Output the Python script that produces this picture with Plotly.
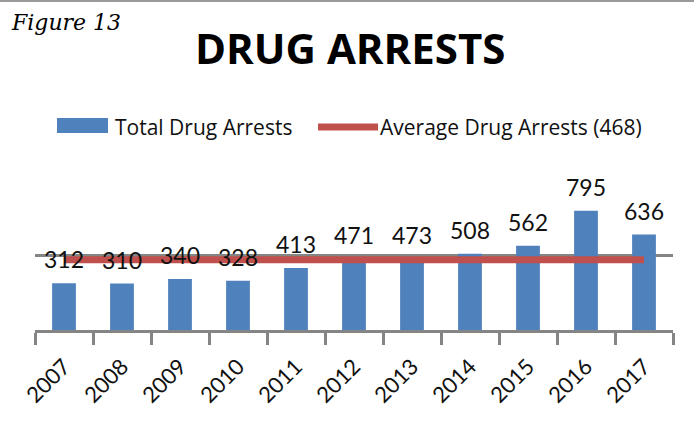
import plotly.graph_objects as go

# Yearly drug arrest counts
years = ["2007", "2008", "2009", "2010", "2011", "2012",
         "2013", "2014", "2015", "2016", "2017"]
arrests = [312, 310, 340, 328, 413, 471, 473, 508, 562, 795, 636]
average = 468

BLUE = "#4F81BD"
RED = "#C0504D"
GRAY = "#858585"

W, H = 694, 431
ML, MR, MT, MB = 35, 21, 180, 101
PW, PH = W - ML - MR, H - MT - MB


def px(x):
    """Pixel x -> paper x."""
    return (x - ML) / PW


def py(y):
    """Pixel y (from top) -> paper y."""
    return (H - MB - y) / PH


fig = go.Figure()

fig.add_trace(go.Bar(
    x=years, y=arrests, marker=dict(color=BLUE, line=dict(width=0)),
    showlegend=False, hoverinfo="x+y",
))

fig.add_trace(go.Scatter(
    x=years, y=[average] * len(years), mode="lines",
    line=dict(color=RED, width=7), showlegend=False,
))

annotations = []
# value labels above each bar (category index positions)
for i, v in enumerate(arrests):
    annotations.append(dict(
        x=i, y=v, xref="x", yref="y", text=str(v), showarrow=False,
        yanchor="bottom", yshift=8,
        font=dict(family="Lato", size=23, color="#111111"),
    ))

# title and figure caption
annotations.append(dict(
    x=px(350), y=py(47), xref="paper", yref="paper", text="DRUG ARRESTS",
    showarrow=False, xanchor="center", yanchor="middle",
    font=dict(family="Open Sans", size=42, color="#000000", weight="bold"),
))
annotations.append(dict(
    x=px(9), y=py(23), xref="paper", yref="paper", text="<i>Figure 13</i>",
    showarrow=False, xanchor="left", yanchor="middle",
    font=dict(family="DejaVu Serif", size=22, color="#000000"),
))

# legend entries
annotations.append(dict(
    x=px(113), y=py(127), xref="paper", yref="paper", text="Total Drug Arrests",
    showarrow=False, xanchor="left", yanchor="middle",
    font=dict(family="Open Sans", size=21, color="#111111"),
))
annotations.append(dict(
    x=px(378), y=py(127), xref="paper", yref="paper",
    text=f"Average Drug Arrests ({average})",
    showarrow=False, xanchor="left", yanchor="middle",
    font=dict(family="Open Sans", size=21, color="#111111"),
))

shapes = [
    dict(type="rect", xref="paper", yref="paper",
         x0=px(57), x1=px(108), y0=py(133), y1=py(118),
         fillcolor=BLUE, line=dict(width=0)),
    dict(type="line", xref="paper", yref="paper",
         x0=px(318), x1=px(378), y0=py(127), y1=py(127),
         line=dict(color=RED, width=7)),
    # thin frame line along the top edge
    dict(type="line", xref="paper", yref="paper",
         x0=px(0), x1=px(W), y0=py(1), y1=py(1),
         line=dict(color="#9a9a9a", width=2)),
]

fig.update_layout(
    width=W, height=H,
    margin=dict(l=ML, r=MR, t=MT, b=MB),
    paper_bgcolor="white", plot_bgcolor="white",
    bargap=0.59,
    annotations=annotations, shapes=shapes,
    xaxis=dict(
        type="category", range=[-0.5, len(years) - 0.5],
        showline=True, linecolor=GRAY, linewidth=3,
        ticks="outside", tickson="boundaries", ticklen=12, tickwidth=3,
        tickcolor=GRAY, tickangle=-45, showgrid=False, ticklabelstandoff=12,
        tickfont=dict(family="Lato", size=22, color="#111111"),
    ),
    yaxis=dict(
        range=[0, 1000], tick0=0, dtick=500, showgrid=True,
        gridcolor=GRAY, gridwidth=3, showticklabels=False, zeroline=False,
        showline=False,
    ),
)

fig.write_html("out.html")
